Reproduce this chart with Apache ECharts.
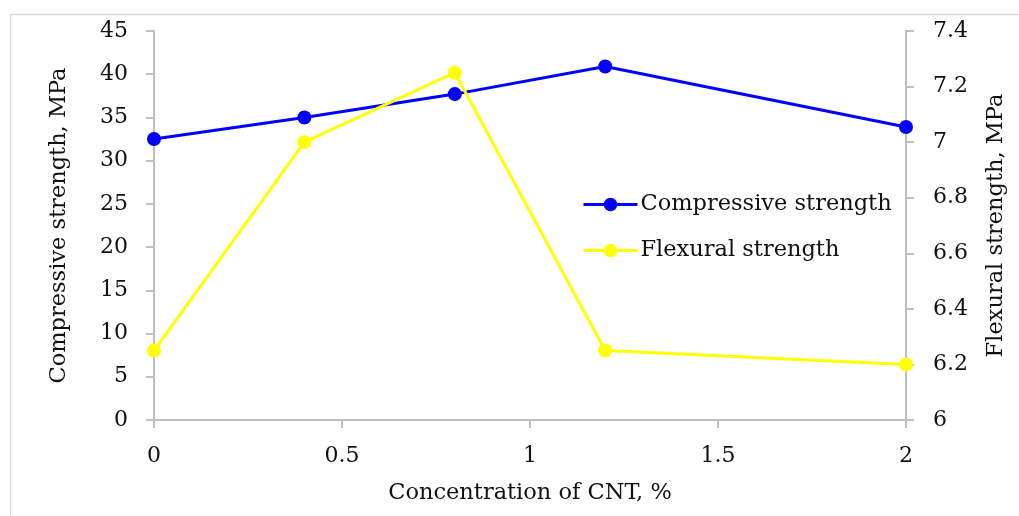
<!DOCTYPE html>
<html>
<head>
<meta charset="utf-8">
<script src="https://cdn.jsdelivr.net/npm/echarts@6/dist/echarts.min.js"></script>
<style>html,body{margin:0;padding:0;background:#fff}#c{width:1019px;height:516px}</style>
</head>
<body>
<div id="c"></div>
<script>
const xValues = [0, 0.4, 0.8, 1.2, 2];
const compressive = [32.5, 35.0, 37.7, 40.9, 33.9];
const flexural = [6.25, 7.0, 7.25, 6.25, 6.2];
const seriesNames = ['Compressive strength', 'Flexural strength'];

const font = 'DejaVu Serif';
const fs = 22.5;
const tfs = 22;
const chart = echarts.init(document.getElementById('c'));
const axisLine = {show: true, lineStyle: {color: '#bfbfbf', width: 2}};
const axisTick = {show: true, length: 8, lineStyle: {color: '#bfbfbf', width: 2}};
chart.setOption({
  animation: false,
  textStyle: {fontFamily: font},
  graphic: [{type: 'rect', left: 8, top: 12, shape: {width: 1030, height: 530}, style: {fill: 'none', stroke: '#d9d9d9', lineWidth: 1.5}, silent: true}],
  grid: {left: 154, right: 113, top: 31, bottom: 96, containLabel: false, outerBoundsMode: 'none'},
  legend: {
    orient: 'vertical', left: 577, top: 188, itemGap: 23, itemWidth: 54, itemHeight: 17,
    data: seriesNames,
    lineStyle: {width: 3},
    textStyle: {fontFamily: font, fontSize: fs, color: '#111', padding: [0, 0, 0, -2]}
  },
  xAxis: {
    type: 'value', min: 0, max: 2, interval: 0.5,
    name: 'Concentration of CNT, %', nameLocation: 'middle', nameGap: 62,
    nameTextStyle: {fontFamily: font, fontSize: fs, color: '#111'},
    axisLine, axisTick,
    axisLabel: {fontFamily: font, fontSize: tfs, color: '#111', margin: 25},
    splitLine: {show: false}
  },
  yAxis: [{
    type: 'value', min: 0, max: 45, interval: 5, position: 'left',
    name: 'Compressive strength, MPa', nameLocation: 'middle', nameGap: 83, nameRotate: 90,
    nameTextStyle: {fontFamily: font, fontSize: fs, color: '#111'},
    axisLine, axisTick,
    axisLabel: {fontFamily: font, fontSize: tfs, color: '#111', margin: 26},
    splitLine: {show: false}
  }, {
    type: 'value', min: 6, max: 7.4, interval: 0.2, position: 'right',
    name: 'Flexural strength, MPa', nameLocation: 'middle', nameGap: 79, nameRotate: 90,
    nameTextStyle: {fontFamily: font, fontSize: fs, color: '#111'},
    axisLine, axisTick,
    axisLabel: {fontFamily: font, fontSize: tfs, color: '#111', margin: 27,
      formatter: v => String(+v.toFixed(1))},
    splitLine: {show: false}
  }],
  series: [{
    name: seriesNames[0], type: 'line', yAxisIndex: 0,
    data: xValues.map((x, i) => [x, compressive[i]]),
    symbol: 'circle', symbolSize: 14,
    lineStyle: {color: '#0000ff', width: 3}, itemStyle: {color: '#0000ff'}
  }, {
    name: seriesNames[1], type: 'line', yAxisIndex: 1,
    data: xValues.map((x, i) => [x, flexural[i]]),
    symbol: 'circle', symbolSize: 14,
    lineStyle: {color: '#ffff00', width: 3}, itemStyle: {color: '#ffff00'}
  }]
});
</script>
</body>
</html>
